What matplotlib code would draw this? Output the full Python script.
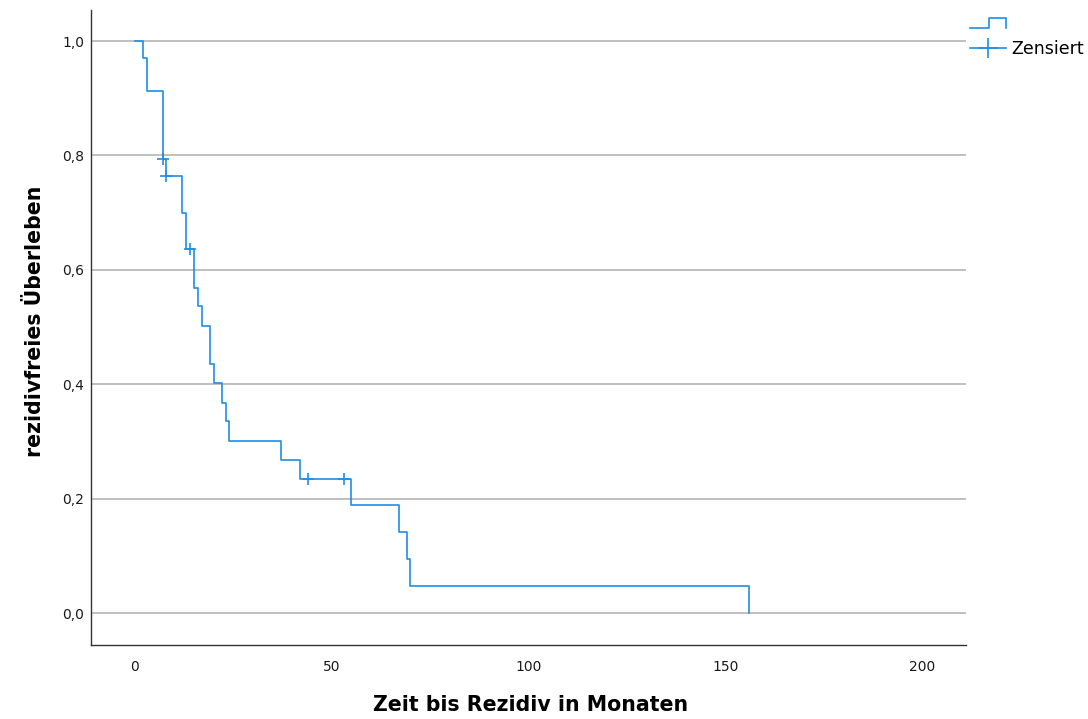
import matplotlib
matplotlib.use("Agg")
import matplotlib.pyplot as plt
from matplotlib.lines import Line2D
from matplotlib.legend_handler import HandlerBase

# ---- data (Kaplan-Meier steps) ----
event_times = [0, 2, 3, 7, 8, 12, 13, 15, 16, 17, 19, 20, 22, 23, 24, 37, 42, 55, 67, 69, 70, 156]
survival = [1.0, 0.971, 0.912, 0.794, 0.764, 0.700, 0.636, 0.569, 0.536, 0.502, 0.435,
             0.402, 0.368, 0.335, 0.301, 0.268, 0.234, 0.188, 0.141, 0.094, 0.047, 0.0]
censor_times = [7, 8, 14, 44, 53]
censor_surv = [0.794, 0.764, 0.636, 0.234, 0.234]

x_ticks = [0, 50, 100, 150, 200]
y_ticks = [0.0, 0.2, 0.4, 0.6, 0.8, 1.0]
y_tick_labels = ["0,0", "0,2", "0,4", "0,6", "0,8", "1,0"]

x_label = "Zeit bis Rezidiv in Monaten"
y_label = "rezidivfreies Überleben"
legend_labels = ["", "Zensiert"]

COLOR = "#1f8fe5"

plt.rcParams['font.family'] = ['DejaVu Sans']

fig = plt.figure(figsize=(10.88, 7.19), dpi=100)
ax = fig.add_axes([91/1088, 74/719, 875/1088, 635/719])

for y in y_ticks:
    ax.axhline(y, color="#b4b4b4", lw=1.2, zorder=1)

ax.step(event_times, survival, where="post", color=COLOR, lw=1.2, zorder=3)
ax.plot(censor_times, censor_surv, linestyle="none", marker="+", markersize=8,
        markeredgewidth=1.2, color=COLOR, zorder=4)

ax.set_xlim(-11.18, 211.18)
ax.set_ylim(-0.0559, 1.0542)
ax.set_xticks(x_ticks)
ax.set_xticklabels([str(v) for v in x_ticks])
ax.set_yticks(y_ticks)
ax.set_yticklabels(y_tick_labels)
ax.tick_params(axis="both", length=0, labelsize=10, colors="#1a1a1a")
ax.tick_params(axis="x", pad=11)
ax.tick_params(axis="y", pad=5)

for s in ["top", "right"]:
    ax.spines[s].set_visible(False)
for s in ["left", "bottom"]:
    ax.spines[s].set_color("#333333")
    ax.spines[s].set_linewidth(1.0)

ax.set_xlabel(x_label, fontsize=14.8, fontweight="bold")
ax.xaxis.set_label_coords(0.502, -0.078)
ax.set_ylabel(y_label, fontsize=14.8, fontweight="bold")
ax.yaxis.set_label_coords(-0.053, 0.509)


class StepHandler(HandlerBase):
    def create_artists(self, legend, orig_handle, xdescent, ydescent, width, height, fontsize, trans):
        x0, y0 = -xdescent, -ydescent
        xs = [x0, x0 + width * 0.52, x0 + width * 0.52, x0 + width, x0 + width]
        ys = [y0 + height * 0.05, y0 + height * 0.05, y0 + height * 0.9, y0 + height * 0.9, y0 + height * 0.05]
        ln = Line2D(xs, ys, color=COLOR, lw=1.2, transform=trans)
        return [ln]


step_handle = Line2D([], [], color=COLOR)
cens_handle = Line2D([], [], color=COLOR, lw=1.2, marker="+", markersize=14, markeredgewidth=1.2)
leg = fig.legend([step_handle, cens_handle], legend_labels,
                 handler_map={step_handle: StepHandler()},
                 loc="upper left", bbox_to_anchor=(970/1088, 1 - 15/719),
                 frameon=False, fontsize=12.5, handlelength=2.1, handletextpad=0.3,
                 borderpad=0, borderaxespad=0, labelspacing=0.42)

fig.savefig("out.png", dpi=100)
